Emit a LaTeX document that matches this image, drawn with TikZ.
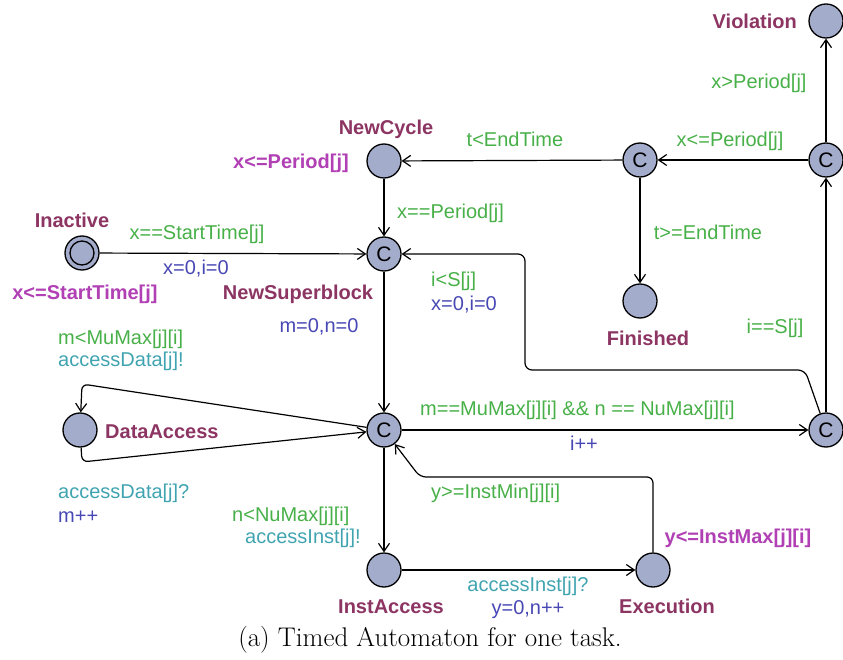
\documentclass[tikz,border=0pt]{standalone}
\usepackage{fontspec}
\newfontfamily\uppfont{Liberation Sans}
\usetikzlibrary{arrows.meta}

\definecolor{locfill}{RGB}{164,172,204}
\definecolor{locname}{RGB}{140,52,98}
\definecolor{invcol}{RGB}{176,64,180}
\definecolor{guardcol}{RGB}{72,176,72}
\definecolor{updcol}{RGB}{72,72,180}
\definecolor{synccol}{RGB}{64,164,176}

\tikzset{
  loc/.style={circle, draw, line width=1.3pt, fill=locfill, minimum size=34pt, inner sep=0pt},
  committed/.style={loc, font=\uppfont\fontsize{21}{21}\selectfont},
  lbl/.style={inner sep=0pt, text height=14pt, text depth=0pt, font=\uppfont\fontsize{20}{24}\selectfont},
  lname/.style={lbl, font=\uppfont\bfseries\fontsize{20}{24}\selectfont, text=locname},
  linv/.style={lbl, font=\uppfont\bfseries\fontsize{20}{24}\selectfont, text=invcol},
  lguard/.style={lbl, text=guardcol},
  lupd/.style={lbl, text=updcol},
  lsync/.style={lbl, text=synccol},
  edge/.style={line width=1.2pt, -{Straight Barb[length=8pt,width=11pt,line width=1.2pt]}},
}

\begin{document}
\begin{tikzpicture}[x=1pt,y=-1pt]
\useasboundingbox (0,0) rectangle (843,660);

% locations
\node[loc] (viol) at (826,21) {};
\node[loc] (newcycle) at (384,161) {};
\node[committed] (b1) at (640,160) {C};
\node[committed] (chk) at (826,160) {C};
\node[loc] (inactive) at (82,253) {};
\node[loc, minimum size=24pt] (inactivein) at (inactive) {};
\node[committed] (nsb) at (384,254) {C};
\node[loc] (finished) at (640,301) {};
\node[loc] (da) at (80,430) {};
\node[committed] (hub) at (384,430) {C};
\node[committed] (eb) at (826,430) {C};
\node[loc] (ia) at (384,570) {};
\node[loc] (ex) at (653,570) {};

% location names
\node[lname, anchor=east] (nviol) at (797,22) {Violation};
\node[lname] (nnc) at (386,128) {NewCycle};
\node[lname] (nin) at (72,221) {Inactive};
\node[lname] (nnsb) at (298,292) {NewSuperblock};
\node[lname] (nfin) at (648,338) {Finished};
\node[lname, anchor=west] (nda) at (105,431) {DataAccess};
\node[lname] (nia) at (391,606) {InstAccess};
\node[lname] (nex) at (667,606) {Execution};

% invariants
\node[linv] (inc) at (291,162) {x<=Period[j]};
\node[linv] (iin) at (85,292) {x<=StartTime[j]};
\node[linv] (iex) at (738,536) {y<=InstMax[j][i]};

% edges
\draw[edge] (inactive) -- (nsb);
\draw[edge] (newcycle) -- (nsb);
\draw[edge] (b1) -- (newcycle);
\draw[edge] (b1) -- (finished);
\draw[edge] (chk) -- (b1);
\draw[edge] (chk) -- (viol);
\draw[edge] (eb) -- (chk);
\draw[edge, rounded corners=7pt] (eb) -- (805,370) -- (525,370) -- (525,254) -- (nsb);
\draw[edge] (nsb) -- (hub);
\draw[edge, rounded corners=6pt] (hub) -- (82,384) -- (da);
\draw[edge, rounded corners=6pt] (da) -- (82,462) -- (hub);
\draw[edge] (hub) -- (eb);
\draw[edge] (hub) -- (ia);
\draw[edge] (ia) -- (ex);
\draw[edge, rounded corners=6pt] (ex) -- (653,477) -- (420,477) -- (hub);

% edge labels
\node[lguard] (g1) at (759,82) {x>Period[j]};
\node[lguard] (g2) at (730,140) {x<=Period[j]};
\node[lguard] (g3) at (515,140) {t<EndTime};
\node[lguard, anchor=west] (g4) at (397,212) {x==Period[j]};
\node[lguard] (g5) at (197,233) {x==StartTime[j]};
\node[lupd] (u5) at (196,268) {x=0,i=0};
\node[lguard] (g6) at (708,233) {t>=EndTime};
\node[lguard, anchor=west] (g7) at (431,280) {i<S[j]};
\node[lupd, anchor=west] (u7) at (431,303) {x=0,i=0};
\node[lupd] (u8) at (319,325) {m=0,n=0};
\node[lguard] (g9) at (775,326) {i==S[j]};
\node[lguard, anchor=west] (g10) at (58,337) {m<MuMax[j][i]};
\node[lsync, anchor=west] (s10) at (58,359) {accessData[j]!};
\node[lguard, anchor=west] (g11) at (420,408) {m==MuMax[j][i] \&\& n == NuMax[j][i]};
\node[lupd] (u11) at (584,443) {i++};
\node[lsync, anchor=west] (s12) at (58,491) {accessData[j]?};
\node[lupd, anchor=west] (u12) at (58,515) {m++};
\node[lguard, anchor=west] (g13) at (431,491) {y>=InstMin[j][i]};
\node[lguard, anchor=west] (g14) at (232,514) {n<NuMax[j][i]};
\node[lsync, anchor=west] (s14) at (245,536) {accessInst[j]!};
\node[lsync] (s15) at (528,584) {accessInst[j]?};
\node[lupd] (u15) at (528,607) {y=0,n++};

% caption
\node[font=\fontsize{27}{32}\selectfont, inner sep=0pt] (cap) at (430,640) {(a) Timed Automaton for one task.};
\end{tikzpicture}
\end{document}
